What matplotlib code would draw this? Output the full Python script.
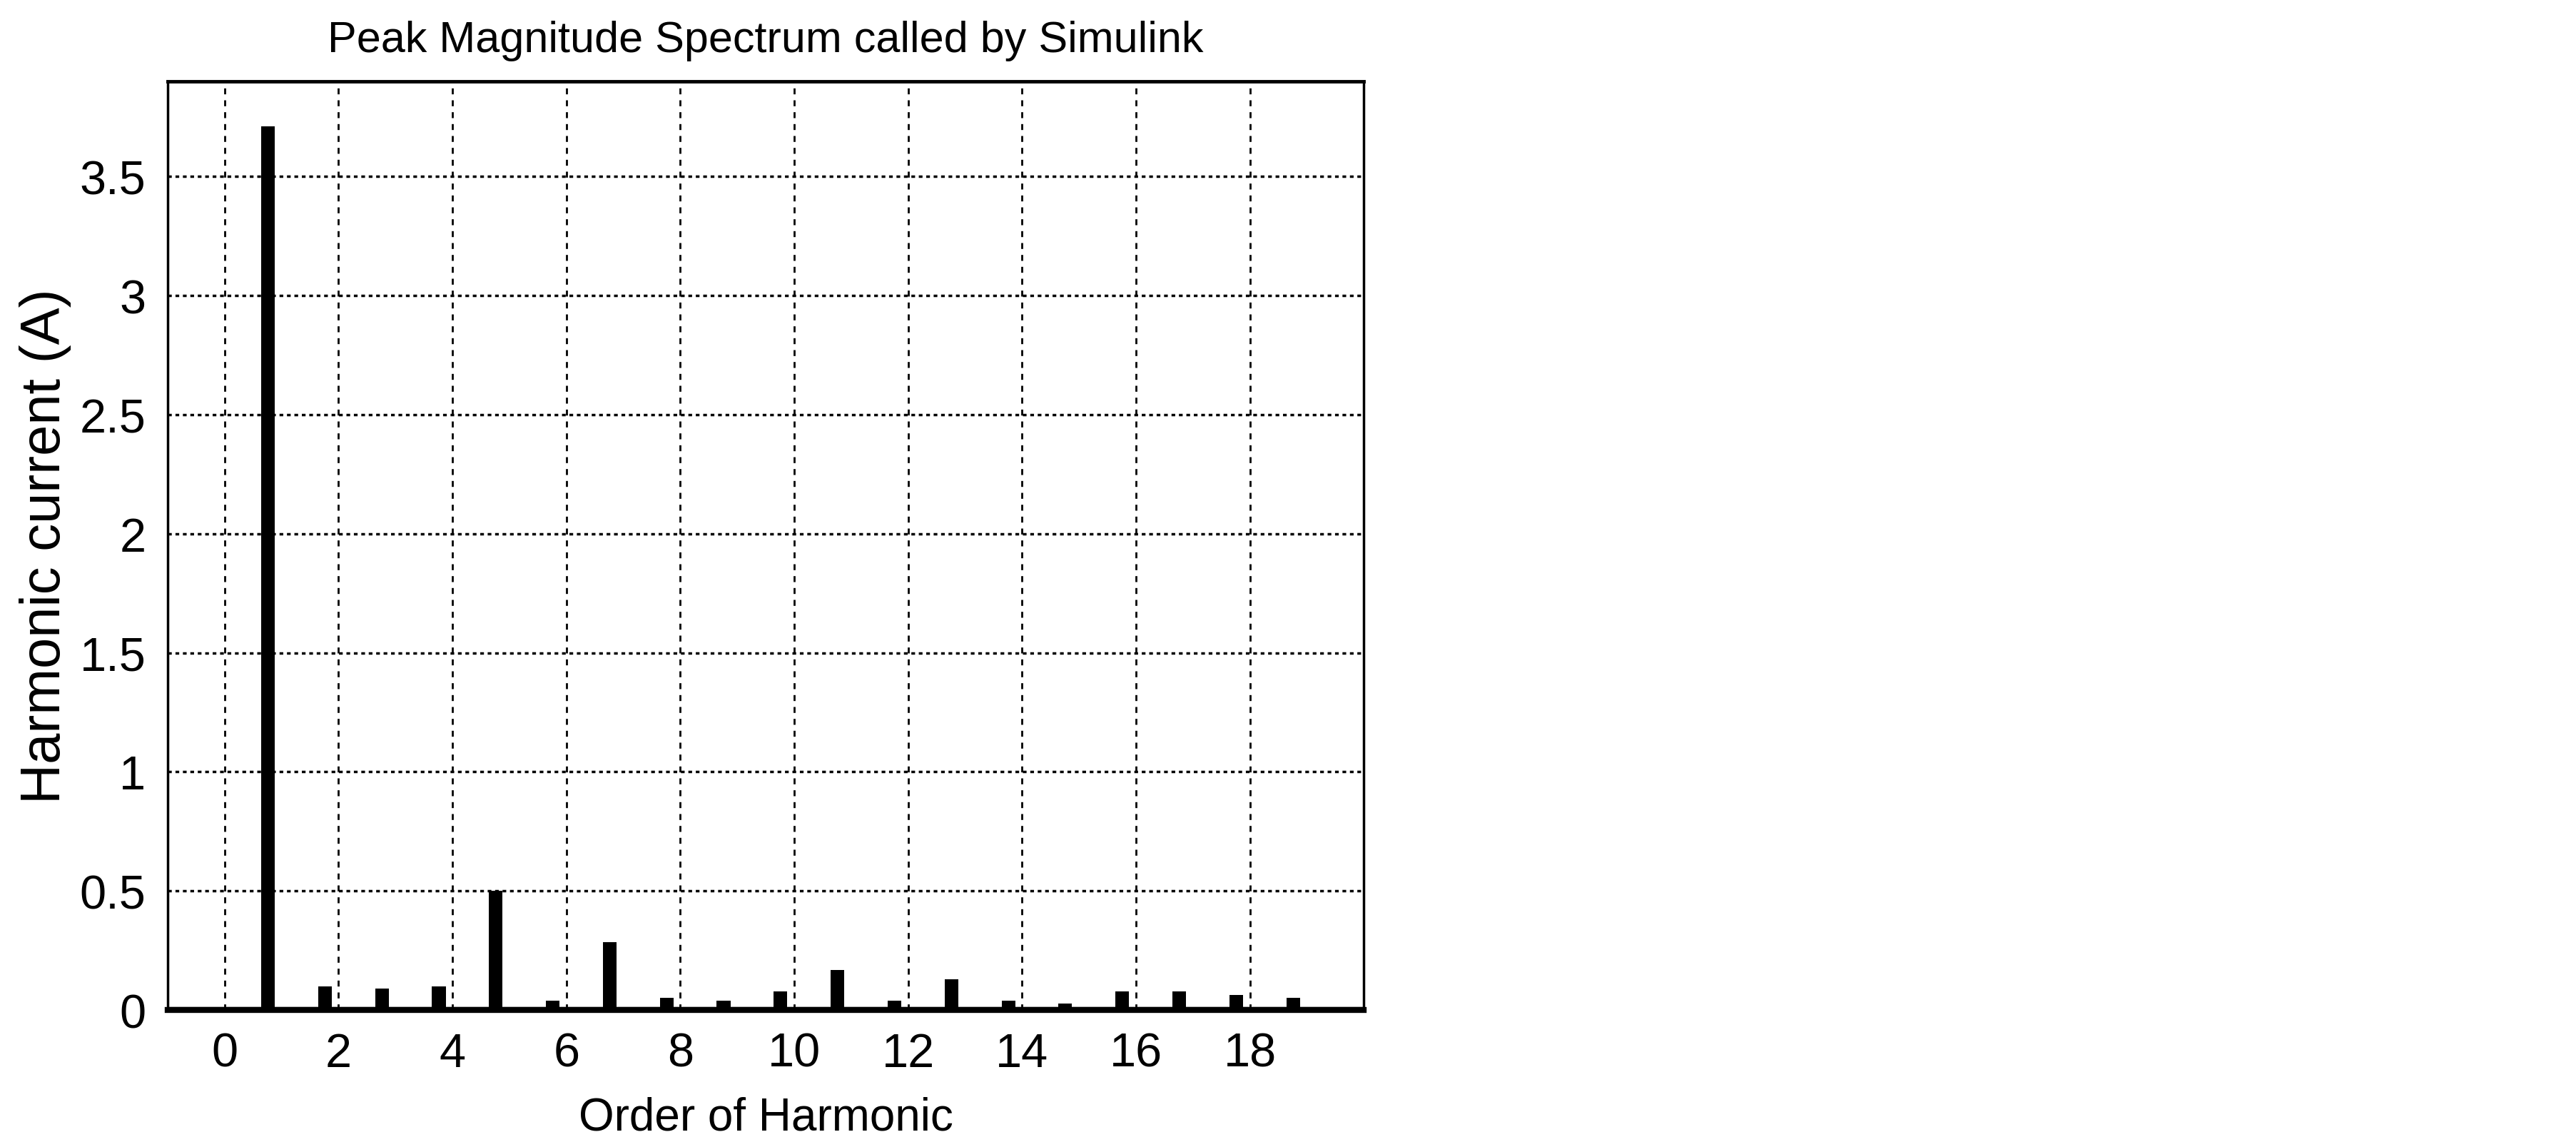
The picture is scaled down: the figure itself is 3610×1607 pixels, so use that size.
import numpy as np
import matplotlib.pyplot as plt
from matplotlib import font_manager

# Data
orders = np.arange(1, 20)
current = [3.71, 0.10, 0.09, 0.10, 0.50, 0.04, 0.285, 0.05, 0.04, 0.077,
           0.168, 0.04, 0.13, 0.04, 0.026, 0.077, 0.077, 0.064, 0.052]
xticks = list(range(0, 20, 2))
yticks = [0, 0.5, 1, 1.5, 2, 2.5, 3, 3.5]
ytick_labels = ["0", "0.5", "1", "1.5", "2", "2.5", "3", "3.5"]

names = {f.name for f in font_manager.fontManager.ttflist}
fam = ["Liberation Sans Narrow", "DejaVu Sans"] if "Liberation Sans Narrow" in names else ["Liberation Sans", "DejaVu Sans"]
plt.rcParams["font.family"] = fam

fig = plt.figure(figsize=(36.1, 16.08), dpi=100)
ax = fig.add_axes([0.0651, 0.1194, 0.4643, 0.8091])

ax.bar(orders - 0.24, current, width=0.24, color="black", zorder=3)
ax.axhline(0, color="black", linewidth=6, zorder=4)

ax.set_xlim(-1, 20)
ax.set_ylim(0, 3.9)
ax.set_xticks(xticks)
ax.set_yticks(yticks)
ax.set_yticklabels(ytick_labels)
ax.tick_params(length=0, labelsize=48, pad=22)

for x in xticks:
    ax.axvline(x, color="black", linewidth=2, linestyle=(0, (3, 3)), zorder=1)
for y in yticks[1:]:
    ax.axhline(y, color="black", linewidth=2.5, linestyle=(0, (1.5, 1.5)), zorder=1)

for s in ["left", "right"]:
    ax.spines[s].set_linewidth(2.5)
ax.spines["top"].set_linewidth(3.5)
ax.spines["bottom"].set_linewidth(6)

ax.set_title("Peak Magnitude Spectrum called by Simulink", fontsize=44, pad=30)
ax.set_xlabel("Order of Harmonic", fontsize=46, labelpad=20)
ax.set_ylabel("Harmonic current (A)", fontsize=56, labelpad=8)

fig.savefig("out.png", dpi=100, facecolor="white")
